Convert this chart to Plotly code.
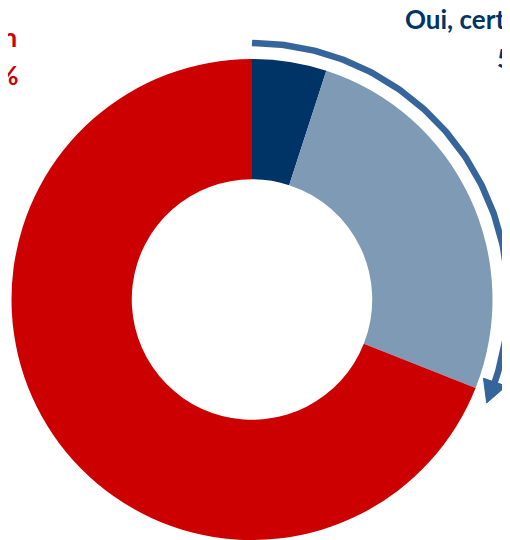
import numpy as np
import plotly.graph_objects as go

# ---- data ----
categories = ["Oui, certainement", "Oui, probablement", "Non"]
values = [5, 26, 69]
colors = ["#003366", "#7F9AB4", "#CC0000"]
label_cert = ["Oui, certainement", "5%"]
label_non = ["Non", "69%"]

W, H = 510, 540
OFF = 8                            # page body margin
cx, cy, R = 252.0, 299.5, 240.5   # pie centre / radius in page px
fcx, fcy = cx - OFF, cy - OFF      # in figure px

fig = go.Figure()

fig.add_trace(go.Pie(
    labels=categories, values=values, hole=0.5, sort=False,
    direction="clockwise", rotation=0,
    marker=dict(colors=colors, line=dict(width=0)),
    textinfo="none", hoverinfo="label+percent", showlegend=False,
    domain=dict(x=[(fcx - R) / W, (fcx + R) / W],
                y=[(H - fcy - R) / H, (H - fcy + R) / H]),
))

# ---- arrow spanning the "Oui" slices ----
oui_share = (values[0] + values[1]) / sum(values)
tip_deg = oui_share * 360 + 2.2
base_deg = tip_deg - 5.0
r_arc = 256.5
theta = np.radians(np.linspace(0, base_deg + 0.5, 200))
ax_x = cx + r_arc * np.sin(theta)
ax_y = cy - r_arc * np.cos(theta)
fig.add_trace(go.Scatter(x=ax_x, y=ax_y, mode="lines",
                         line=dict(color="#35659A", width=6.5),
                         hoverinfo="skip", showlegend=False))
tb = np.radians(base_deg)
tt = np.radians(tip_deg)
half = 12
head_r = [r_arc - half, r_arc + half, r_arc]
head_a = [tb, tb, tt]
hx = [cx + r * np.sin(a) for r, a in zip(head_r, head_a)]
hy = [cy - r * np.cos(a) for r, a in zip(head_r, head_a)]
fig.add_trace(go.Scatter(x=hx + [hx[0]], y=hy + [hy[0]], mode="lines",
                         fill="toself", fillcolor="#35659A",
                         line=dict(color="#35659A", width=1),
                         hoverinfo="skip", showlegend=False))

font = "Lato, Open Sans, sans-serif"
annos = [
    dict(x=403, y=31, text="<b>%s</b>" % label_cert[0], xanchor="left", color="#003366"),
    dict(x=495, y=70, text="<b>%s</b>" % label_cert[1], xanchor="left", color="#003366"),
    dict(x=19, y=49, text="<b>%s</b>" % label_non[0], xanchor="right", color="#CC0000"),
    dict(x=20, y=87, text="<b>%s</b>" % label_non[1], xanchor="right", color="#CC0000"),
]
for a in annos:
    fig.add_annotation(x=a["x"], y=a["y"], xref="x", yref="y", text=a["text"],
                       showarrow=False, xanchor=a["xanchor"], yanchor="bottom",
                       yshift=-6,
                       font=dict(family=font, size=26, color=a["color"]))

fig.update_layout(
    width=W, height=H, margin=dict(l=0, r=0, t=0, b=0),
    paper_bgcolor="white", plot_bgcolor="rgba(0,0,0,0)",
    xaxis=dict(range=[OFF, W + OFF], visible=False, fixedrange=True),
    yaxis=dict(range=[H + OFF, OFF], visible=False, fixedrange=True),
    showlegend=False,
)

fig.write_html("out.html")
